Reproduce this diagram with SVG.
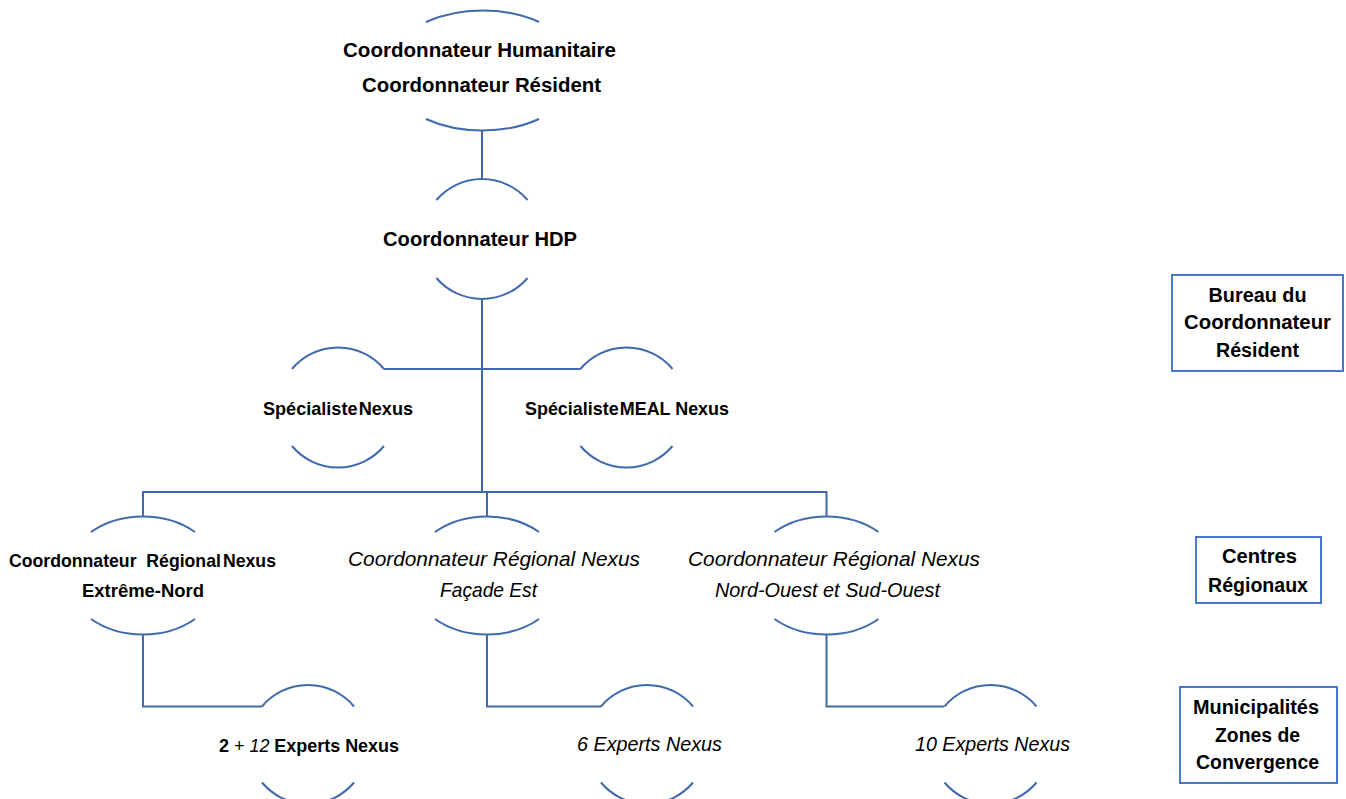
<svg xmlns="http://www.w3.org/2000/svg" width="1346" height="799" viewBox="0 0 1346 799">
<style>
.arc{fill:none;stroke:#4169AE;stroke-width:2}
.con{fill:none;stroke:#4169AE;stroke-width:2}
.box{fill:#fff;stroke:#4A78C8;stroke-width:2}
text{font-family:"Liberation Sans",Arial,sans-serif;fill:#000;text-anchor:middle}
.b{font-weight:bold;font-size:20px}
.i{font-style:italic;font-size:21px}
.s{font-weight:bold;font-size:19px}
</style>
<rect width="1346" height="799" fill="#fff"/>
<g id="connectors">
<path class="con" d="M482 130.5V179"/>
<path class="con" d="M482 299V492"/>
<path class="con" d="M384 369H580.5"/>
<path class="con" d="M143 516.5V492H826.5V516.5M487 492V516.5"/>
<path class="con" d="M143 634.5V706.5H262"/>
<path class="con" d="M487 634.5V706.5H601"/>
<path class="con" d="M826.5 634.5V706.5H944"/>
</g>
<g id="node-hc">
<path class="arc" d="M426 22A96 60 0 0 1 539 22M426 119A96 60 0 0 0 539 119"/>
<text class="b" x="479.5" y="57" textLength="273" lengthAdjust="spacingAndGlyphs">Coordonnateur Humanitaire</text>
<text class="b" x="481.5" y="92" textLength="239" lengthAdjust="spacingAndGlyphs">Coordonnateur Résident</text>
</g>
<g id="node-hdp">
<path class="arc" d="M436.4 200A60 60 0 0 1 527.6 200M436.4 278A60 60 0 0 0 527.6 278"/>
<text class="b" x="480" y="245.5" textLength="194" lengthAdjust="spacingAndGlyphs">Coordonnateur HDP</text>
</g>
<g id="node-spec">
<path class="arc" d="M292 369A60 60 0 0 1 384 369M292 446A60 60 0 0 0 384 446"/>
<text class="s" x="338" y="415" textLength="150" lengthAdjust="spacingAndGlyphs" word-spacing="-4">Spécialiste Nexus</text>
</g>
<g id="node-meal">
<path class="arc" d="M580.5 369A60 60 0 0 1 672.5 369M580.5 446A60 60 0 0 0 672.5 446"/>
<text class="s" x="627" y="415" textLength="204" lengthAdjust="spacingAndGlyphs"><tspan word-spacing="-4">Spécialiste </tspan>MEAL Nexus</text>
</g>
<g id="node-reg-en">
<path class="arc" d="M91 532A77 59 0 0 1 195 532M91 619A77 59 0 0 0 195 619"/>
<text class="s" x="142.5" y="567" textLength="267" lengthAdjust="spacingAndGlyphs" xml:space="preserve">Coordonnateur  <tspan word-spacing="-3">Régional Nexus</tspan></text>
<text class="s" x="143" y="597" textLength="122" lengthAdjust="spacingAndGlyphs">Extrême-Nord</text>
</g>
<g id="node-reg-fe">
<path class="arc" d="M435 532A77 59 0 0 1 539 532M435 619A77 59 0 0 0 539 619"/>
<text class="i" x="494" y="566" textLength="292" lengthAdjust="spacingAndGlyphs">Coordonnateur Régional Nexus</text>
<text class="i" x="488.5" y="597" textLength="97" lengthAdjust="spacingAndGlyphs">Façade Est</text>
</g>
<g id="node-reg-no">
<path class="arc" d="M774.5 532A77 59 0 0 1 878.5 532M774.5 619A77 59 0 0 0 878.5 619"/>
<text class="i" x="834" y="566" textLength="292" lengthAdjust="spacingAndGlyphs">Coordonnateur Régional Nexus</text>
<text class="i" x="827.5" y="597" textLength="225" lengthAdjust="spacingAndGlyphs">Nord-Ouest et Sud-Ouest</text>
</g>
<g id="node-exp-en">
<path class="arc" d="M262 706.5A60 60 0 0 1 354 706.5M262 782.5A60 60 0 0 0 354 782.5"/>
<text x="309" y="751.5" font-size="19" textLength="180" lengthAdjust="spacingAndGlyphs"><tspan font-weight="bold">2</tspan> + <tspan font-style="italic">12</tspan> <tspan font-weight="bold">Experts Nexus</tspan></text>
</g>
<g id="node-exp-fe">
<path class="arc" d="M601 706.5A60 60 0 0 1 693 706.5M601 782.5A60 60 0 0 0 693 782.5"/>
<text class="i" x="649.5" y="750.5" textLength="145" lengthAdjust="spacingAndGlyphs">6 Experts Nexus</text>
</g>
<g id="node-exp-no">
<path class="arc" d="M944.5 706.5A60 60 0 0 1 1036.5 706.5M944.5 782.5A60 60 0 0 0 1036.5 782.5"/>
<text class="i" x="992.5" y="750.5" textLength="155" lengthAdjust="spacingAndGlyphs">10 Experts Nexus</text>
</g>
<g id="legend-bureau">
<rect class="box" x="1172" y="275" width="171" height="96"/>
<text class="b" x="1257.5" y="302" textLength="98" lengthAdjust="spacingAndGlyphs">Bureau du</text>
<text class="b" x="1257.5" y="329" textLength="147" lengthAdjust="spacingAndGlyphs">Coordonnateur</text>
<text class="b" x="1257.5" y="357" textLength="83" lengthAdjust="spacingAndGlyphs">Résident</text>
</g>
<g id="legend-centres">
<rect class="box" x="1196" y="537" width="125" height="66"/>
<text class="b" x="1259.5" y="563" textLength="75" lengthAdjust="spacingAndGlyphs">Centres</text>
<text class="b" x="1258" y="592" textLength="100" lengthAdjust="spacingAndGlyphs">Régionaux</text>
</g>
<g id="legend-municipalites">
<rect class="box" x="1180" y="687" width="157" height="96"/>
<text class="b" x="1256" y="714" textLength="126" lengthAdjust="spacingAndGlyphs">Municipalités</text>
<text class="b" x="1257.5" y="742" textLength="85" lengthAdjust="spacingAndGlyphs">Zones de</text>
<text class="b" x="1257.5" y="769" textLength="123" lengthAdjust="spacingAndGlyphs">Convergence</text>
</g>
</svg>
